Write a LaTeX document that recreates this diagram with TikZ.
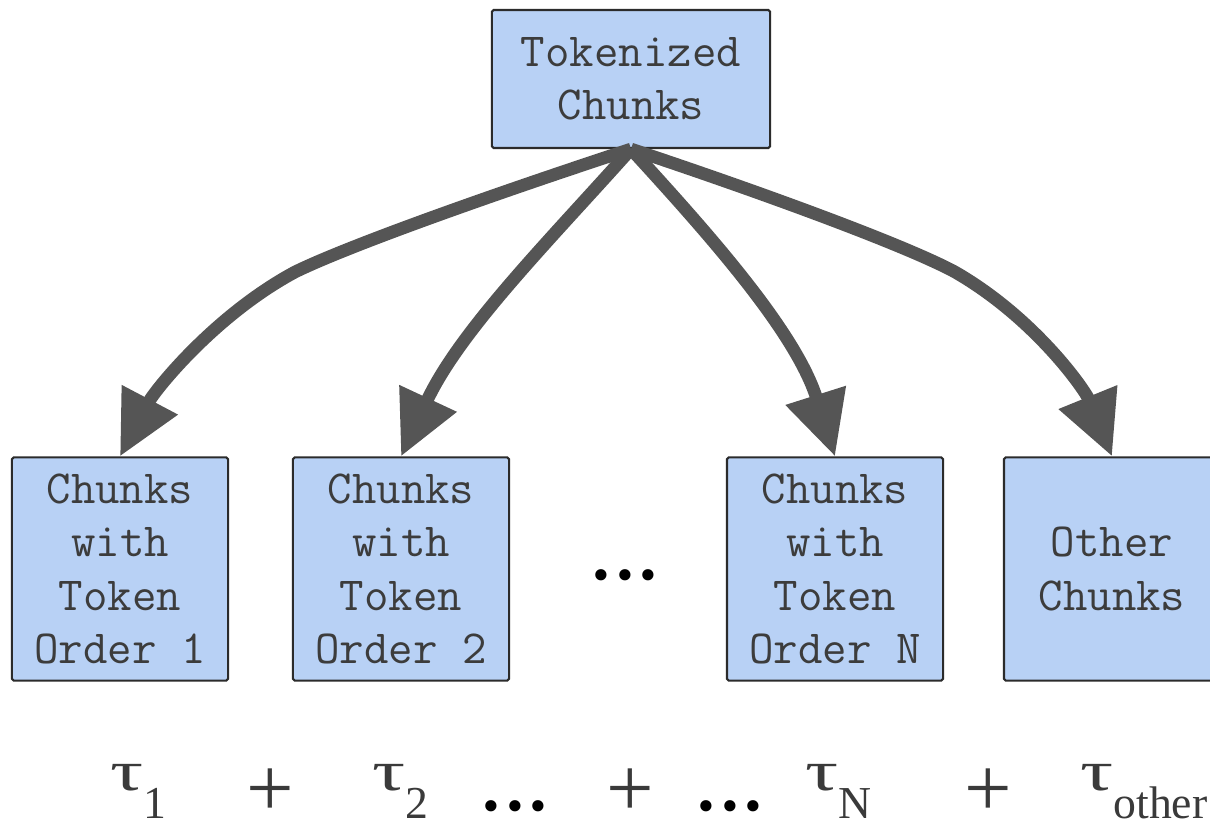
\documentclass[tikz,border=0pt]{standalone}
\usepackage{fontspec}
\usetikzlibrary{arrows.meta}
\newfontfamily\sumfont{Liberation Serif}
\definecolor{boxblue}{HTML}{B8D1F5}
\definecolor{boxline}{HTML}{2B2B2B}
\definecolor{boxtext}{HTML}{3C3C3C}
\definecolor{flowgray}{HTML}{555555}
\definecolor{sumtext}{HTML}{3A3A3A}
\newcommand{\tauterm}[1]{\scalebox{1.3}[0.9]{τ}\raisebox{-8.2pt}{\fontsize{13}{13}\selectfont #1}}

\begin{document}
\begin{tikzpicture}[x=0.01cm,y=-0.01cm,
  chunkbox/.style={draw=boxline,line width=0.6pt,fill=boxblue,rounded corners=0.5pt,
    text=boxtext,font=\ttfamily\fontsize{13.5}{15.1}\selectfont,align=center,
    minimum width=2.16cm,minimum height=2.23cm,inner sep=0pt,
    execute at begin node={\rule{0pt}{13pt}}},
  flow/.style={draw=flowgray,line width=3.6pt,-{Triangle[length=0.64cm,width=0.6cm]}},
  sumterm/.style={font=\sumfont\fontsize{18}{18}\selectfont,text=sumtext,anchor=base west,inner sep=0.5pt},
  plus/.style={font=\sumfont\fontsize{24}{24}\selectfont,text=sumtext,inner sep=0.5pt},
  dots/.style={font=\sumfont\fontsize{27}{27}\selectfont,text=black,anchor=base,inner sep=0.5pt}]
  \useasboundingbox (0,0) rectangle (1210,822);

  \node[chunkbox,minimum width=2.78cm,minimum height=1.38cm] (tok) at (631,79){Tokenized\\Chunks};

  \node[chunkbox] (c1) at (120,569){Chunks\\with\\Token\\Order 1};
  \node[chunkbox] (c2) at (401,569){Chunks\\with\\Token\\Order 2};
  \node[chunkbox] (cn) at (835,569){Chunks\\with\\Token\\Order N};
  \node[chunkbox] (co) at (1112,569){Other\\Chunks};
  \node[dots] (gap) at (625,579){...};

  \draw[flow] (tok.south) .. controls (500,192) and (350,245) .. (295,272)
    .. controls (215,315) and (155,390) .. (c1.north);
  \draw[flow] (tok.south) .. controls (550,240) and (460,330) .. (c2.north);
  \draw[flow] (tok.south) .. controls (705,230) and (795,330) .. (cn.north);
  \draw[flow] (tok.south) .. controls (760,192) and (905,245) .. (955,272)
    .. controls (1035,318) and (1085,390) .. (co.north);

  \node[sumterm] (s1) at (108,790){\tauterm{1}};
  \node[plus] (p1) at (270,793){+};
  \node[sumterm] (s2) at (370,790){\tauterm{2}};
  \node[dots] (d1) at (515,810){...};
  \node[plus] (p2) at (630,793){+};
  \node[dots] (d2) at (730,810){...};
  \node[sumterm] (sn) at (803,790){\tauterm{N}};
  \node[plus] (p3) at (988,793){+};
  \node[sumterm] (so) at (1078,790){\tauterm{other}};

\end{tikzpicture}
\end{document}
